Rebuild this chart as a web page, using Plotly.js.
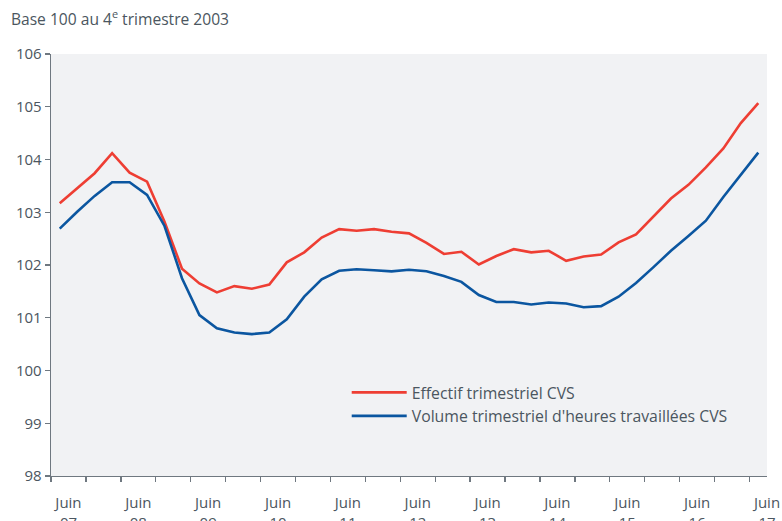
<!DOCTYPE html>
<html>
<head>
<meta charset="utf-8">
<script src="https://cdn.plot.ly/plotly-3.0.1.min.js"></script>
<style>
html,body{margin:0;padding:0;background:#fff;}
#chart{width:782px;height:521px;}
</style>
</head>
<body>
<div id="chart"></div>
<script>
// Quarters from Q2 2007 to Q2 2017
const quarters = [
  "T2 2007","T3 2007","T4 2007","T1 2008","T2 2008","T3 2008","T4 2008","T1 2009",
  "T2 2009","T3 2009","T4 2009","T1 2010","T2 2010","T3 2010","T4 2010","T1 2011",
  "T2 2011","T3 2011","T4 2011","T1 2012","T2 2012","T3 2012","T4 2012","T1 2013",
  "T2 2013","T3 2013","T4 2013","T1 2014","T2 2014","T3 2014","T4 2014","T1 2015",
  "T2 2015","T3 2015","T4 2015","T1 2016","T2 2016","T3 2016","T4 2016","T1 2017",
  "T2 2017"
];
const effectif = [
  103.17,103.45,103.74,104.12,103.75,103.58,102.82,101.93,
  101.65,101.48,101.60,101.55,101.63,102.05,102.24,102.52,
  102.68,102.65,102.68,102.63,102.60,102.42,102.21,102.25,
  102.01,102.17,102.30,102.24,102.27,102.08,102.16,102.20,
  102.43,102.58,102.92,103.26,103.52,103.85,104.21,104.69,
  105.07
];
const volume = [
  102.69,103.01,103.31,103.57,103.57,103.33,102.74,101.75,
  101.05,100.80,100.72,100.69,100.72,100.97,101.40,101.73,
  101.89,101.92,101.90,101.88,101.91,101.88,101.79,101.68,
  101.43,101.30,101.30,101.25,101.29,101.27,101.20,101.22,
  101.40,101.66,101.96,102.27,102.55,102.84,103.29,103.72,
  104.13
];
const tickLabels = ["Juin<br>07","Juin<br>08","Juin<br>09","Juin<br>10","Juin<br>11","Juin<br>12",
                    "Juin<br>13","Juin<br>14","Juin<br>15","Juin<br>16","Juin<br>17"];
const seriesNames = ["Effectif trimestriel CVS","Volume trimestriel d'heures travaillées CVS"];
const chartTitle = "Base 100 au 4<sup>e</sup> trimestre 2003";

const xIdx = quarters.map((q,i)=>i);
const labelPos = tickLabels.map((t,k)=>0.5+4*k);

const textColor = "#4b5660";
const axisColor = "#6f7880";

const traces = [
  {x:xIdx, y:effectif, text:quarters, type:"scatter", mode:"lines", name:seriesNames[0],
   line:{color:"#ee3e33", width:2.6}},
  {x:xIdx, y:volume, text:quarters, type:"scatter", mode:"lines", name:seriesNames[1],
   line:{color:"#0b56a0", width:2.6}}
];

const layout = {
  width:782, height:521,
  margin:{l:51, r:15, t:54, b:45},
  paper_bgcolor:"#ffffff",
  plot_bgcolor:"#f1f2f4",
  font:{family:"Open Sans, sans-serif", size:14, color:textColor},
  title:{text:chartTitle, xref:"container", yref:"container", x:0.014, xanchor:"left",
         y:0.973, yanchor:"top", font:{size:15.6, color:textColor}},
  showlegend:true,
  legend:{x:0.413, y:0.238, xanchor:"left", yanchor:"top", bgcolor:"rgba(0,0,0,0)",
          font:{size:15.8, color:textColor}, tracegroupgap:0, itemwidth:55},
  xaxis:{range:[-0.5,40.5], tickmode:"array", tickvals:labelPos, ticktext:tickLabels,
         ticks:"", showgrid:false, zeroline:false, showline:true, linecolor:axisColor, linewidth:1.3,
         tickfont:{size:15, color:textColor}, ticklabelstandoff:13,
         minor:{tick0:-0.5, dtick:2, ticks:"outside", ticklen:5, tickcolor:axisColor, tickwidth:1.3, showgrid:false},
         fixedrange:true},
  yaxis:{range:[98,106], tickmode:"linear", tick0:98, dtick:1, ticks:"outside", ticklen:5,
         tickcolor:axisColor, tickwidth:1.3, showgrid:false, zeroline:false, showline:true,
         linecolor:axisColor, linewidth:1.3, tickfont:{size:15, color:textColor}, fixedrange:true}
};

Plotly.newPlot("chart", traces, layout, {displayModeBar:false, staticPlot:true});
</script>
</body>
</html>
